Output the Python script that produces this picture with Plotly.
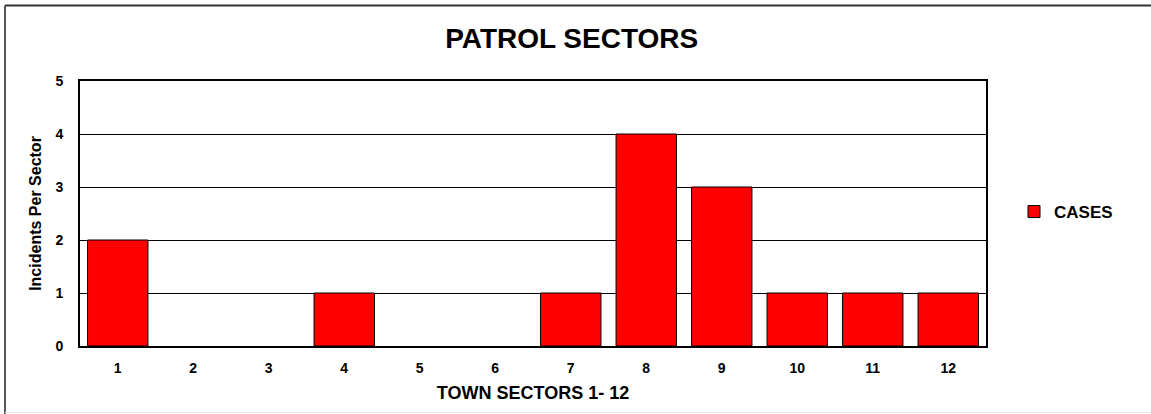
import plotly.graph_objects as go

sectors = list(range(1, 13))
incidents = [2, 0, 0, 1, 0, 0, 1, 4, 3, 1, 1, 1]
tick_labels = [str(s) for s in sectors]
series_name = "CASES"
title_text = "PATROL SECTORS"
x_title = "TOWN SECTORS 1- 12"
y_title = "Incidents Per Sector"

W, H = 1151, 414
L, R, T, B = 80, 165, 81, 68
pw, ph = W - L - R, H - T - B

def px(x):
    return (x - L) / pw

def py(y):
    return (H - B - y) / ph

FONT = "Liberation Sans, Arial, sans-serif"

line_widths = [1 if v > 0 else 0 for v in incidents]

fig = go.Figure(go.Bar(
    x=sectors, y=incidents, name=series_name,
    marker=dict(color="#ff0000", line=dict(color="black", width=line_widths)),
    showlegend=True,
))

fig.update_layout(
    width=W, height=H,
    margin=dict(l=L, r=R, t=T, b=B),
    paper_bgcolor="white", plot_bgcolor="white",
    bargap=0.2,
    title=dict(text="<b>" + title_text + "</b>", x=px(530), xanchor="center",
               y=1 - 38 / H, yanchor="middle",
               font=dict(family=FONT, size=28, color="black")),
    font=dict(family=FONT, color="black"),
    showlegend=True,
    legend=dict(x=px(1014), y=py(212), xanchor="left", yanchor="middle",
                font=dict(family=FONT, size=17, color="black", weight="bold"),
                bgcolor="rgba(0,0,0,0)"),
    xaxis=dict(range=[0.5, 12.5], tickmode="array", tickvals=sectors, ticktext=tick_labels,
               showline=True, mirror=True, linecolor="black", linewidth=2,
               showgrid=False, zeroline=False, ticks="", ticklabelstandoff=8,
               tickfont=dict(family=FONT, size=14, color="black", weight="bold"),
               title=dict(text="<b>" + x_title + "</b>", standoff=12,
                          font=dict(family=FONT, size=18, color="black"))),
    yaxis=dict(range=[0, 5], dtick=1, tick0=0,
               showline=True, mirror=True, linecolor="black", linewidth=2,
               showgrid=True, gridcolor="black", gridwidth=1, zeroline=False,
               ticks="", ticklabelstandoff=12,
               tickfont=dict(family=FONT, size=14, color="black", weight="bold"),
               title=dict(text="<b>" + y_title + "</b>", standoff=10,
                          font=dict(family=FONT, size=16, color="black"))),
    shapes=[
        dict(type="line", xref="paper", yref="paper", x0=px(5), x1=px(W + 5), y0=py(5.5), y1=py(5.5),
             line=dict(color="#333333", width=2)),
        dict(type="line", xref="paper", yref="paper", x0=px(5), x1=px(5), y0=py(5.5), y1=py(H + 5),
             line=dict(color="#555555", width=2)),
        dict(type="line", xref="paper", yref="paper", x0=px(5), x1=px(W + 5), y0=py(412.5), y1=py(412.5),
             line=dict(color="#e6e6e6", width=1)),
    ],
)

fig.write_html("out.html", config={"displayModeBar": False},
               post_script="document.body.style.margin='0';document.body.style.overflow='hidden';")
